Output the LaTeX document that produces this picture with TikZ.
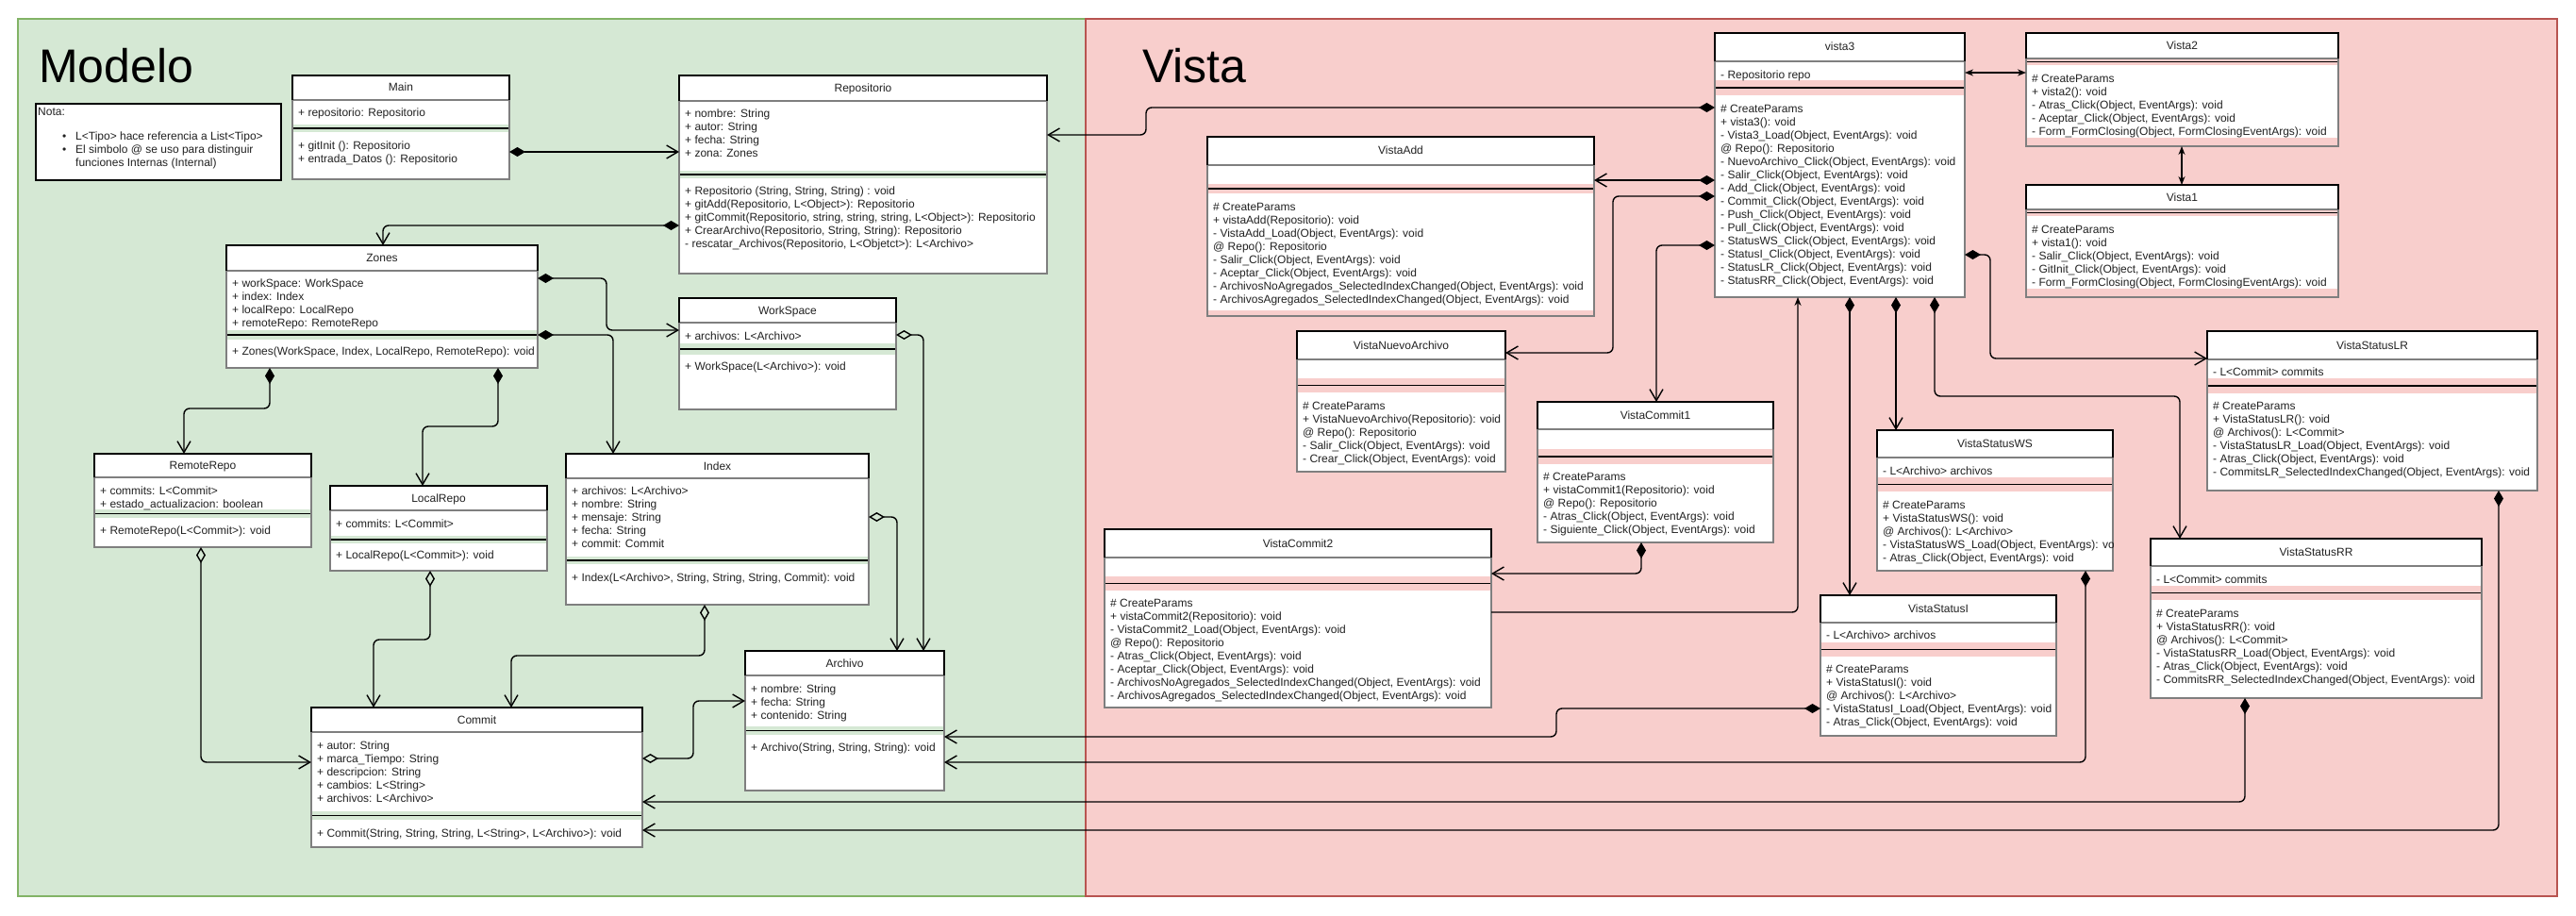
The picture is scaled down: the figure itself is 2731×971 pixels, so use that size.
\documentclass[tikz,border=0pt]{standalone}
\usepackage{fontspec}
\setmainfont{Liberation Sans}
\usetikzlibrary{arrows.meta}

\definecolor{modelfill}{HTML}{D5E8D4}
\definecolor{modeldraw}{HTML}{82B366}
\definecolor{vistafill}{HTML}{F8CECC}
\definecolor{vistadraw}{HTML}{B85450}
\definecolor{bodygray}{HTML}{7F7F7F}
\definecolor{ink}{HTML}{222222}

\tikzset{
  panel/.style={inner sep=0pt, outer sep=0pt, line width=1.2pt, anchor=north west},
  classnode/.style={inner sep=0pt, outer sep=0pt, draw=none},
  notabox/.style={draw=black, fill=white, line width=1.8pt, inner sep=0pt, outer sep=0pt},
  headline/.style={line width=1.8pt, draw=black},
  bodyline/.style={line width=1.3pt, draw=bodygray},
  sepline/.style={line width=1.8pt, draw=black},
  classtitle/.style={anchor=base, inner sep=0pt, font=\fontsize{12}{14}\selectfont, text=ink},
  classtext/.style={anchor=north west, inner sep=0pt, align=left, font=\fontsize{12}{14}\selectfont, text=ink},
  heading/.style={anchor=base west, inner sep=0pt, font=\fontsize{50}{60}\selectfont, text=black},
  link/.style={line width=1.4pt, draw=black, rounded corners=6pt},
  comp/.style={link, arrows={Diamond[length=17pt,width=10pt]-Straight Barb[length=12pt,width=14pt]}},
  aggr/.style={link, arrows={Diamond[open,length=17pt,width=10pt]-Straight Barb[length=12pt,width=14pt]}},
  nav/.style={link, arrows={-Stealth[length=9pt,width=7pt]}},
  both/.style={link, arrows={Stealth[length=9pt,width=7pt]-Stealth[length=9pt,width=7pt]}},
}

% geometry helpers: left,top,right,bottom  and  header,band top,band bottom,methods bottom
\def\clsgeom#1,#2,#3,#4\relax{\def\clsL{#1}\def\clsT{#2}\def\clsR{#3}\def\clsB{#4}}
\def\clssect#1,#2,#3,#4\relax{\def\clsH{#1}\def\clsBt{#2}\def\clsBb{#3}\def\clsM{#4}}

% UML class box: name, title, {l,t,r,b}, {header,band top,band bottom,methods bottom}
\newcommand\umlclass[4]{%
  \clsgeom#3\relax\clssect#4\relax
  \def\clsN{#1}%
  \fill[white] (\clsL,\clsT) rectangle (\clsR,\clsBt);
  \fill[white] (\clsL,\clsBb) rectangle (\clsR,\clsM);
  \pgfmathsetmacro\clsS{(\clsBt+\clsBb)/2}%
  \draw[sepline] (\clsL,\clsS) -- (\clsR,\clsS);
  \draw[bodyline] (\clsL,\clsH) rectangle (\clsR,\clsB);
  \draw[headline] (\clsL,\clsH) -- (\clsL,\clsT) -- (\clsR,\clsT) -- (\clsR,\clsH);
  \node[classnode, minimum width={(\clsR-\clsL)*1pt}, minimum height={(\clsB-\clsT)*1pt}, anchor=north west] (#1) at (\clsL,\clsT) {};
  \pgfmathsetmacro\clsCx{(\clsL+\clsR)/2}%
  \pgfmathsetmacro\clsCy{(\clsT+\clsH)/2+4}%
  \node[classtitle] (#1-title) at (\clsCx,\clsCy) {#2};
}
% member lists: centre of the first line, lines
\newcommand\umlattr[2]{%
  \pgfmathsetmacro\clsTy{#1-6}%
  \node[classtext] (\clsN-attr) at (\clsL+6,\clsTy) {\rule{0pt}{10pt}#2};
}
\newcommand\umlmeth[2]{%
  \pgfmathsetmacro\clsTy{#1-6}%
  \node[classtext] (\clsN-meth) at (\clsL+6,\clsTy) {\rule{0pt}{10pt}#2};
}

\begin{document}
\begin{tikzpicture}[x=1pt,y=-1pt]
\useasboundingbox (0,0) rectangle (2731,971);
\fill[white] (0,0) rectangle (2731,971);

% packages
\node[panel, fill=modelfill, draw=modeldraw, minimum width=1132pt, minimum height=930pt] (modelpanel) at (19,20) {};
\node[panel, fill=vistafill, draw=vistadraw, minimum width=1560pt, minimum height=930pt] (vistapanel) at (1151,20) {};
\node[heading] (modelo) at (41,88) {Modelo};
\node[heading] (vista) at (1211,88) {Vista};

% note
\node[notabox, minimum width=260pt, minimum height=81pt, anchor=north west] (nota) at (38,110) {};
\node[classtext] (nota-head) at (40,112) {\rule{0pt}{10pt}Nota:};
\node[classtext] (nota-dots) at (66,138) {\rule{0pt}{10pt}\textbullet\\\textbullet};
\node[classtext] (nota-body) at (80,138) {\rule{0pt}{10pt}L<Tipo> hace referencia a List<Tipo>\\El simbolo @ se uso para distinguir\\funciones Internas (Internal)};

% ---------------- Modelo ----------------
\umlclass{main}{Main}{310,80,540,190}{106,132,140,190}
\umlattr{119}{+ repositorio: Repositorio}
\umlmeth{154}{+ gitInit (): Repositorio\\+ entrada\_Datos (): Repositorio}

\umlclass{repo}{Repositorio}{720,80,1110,290}{107,181,189,290}
\umlattr{120}{+ nombre: String\\+ autor: String\\+ fecha: String\\+ zona: Zones}
\umlmeth{202}{+ Repositorio (String, String, String) : void\\+ gitAdd(Repositorio, L<Object>): Repositorio\\+ gitCommit(Repositorio, string, string, string, L<Object>): Repositorio\\+ CrearArchivo(Repositorio, String, String): Repositorio\\- rescatar\_Archivos(Repositorio, L<Objetct>): L<Archivo>}

\umlclass{zones}{Zones}{240,260,570,390}{287,350,360,390}
\umlattr{300}{+ workSpace: WorkSpace\\+ index: Index\\+ localRepo: LocalRepo\\+ remoteRepo: RemoteRepo}
\umlmeth{372}{+ Zones(WorkSpace, Index, LocalRepo, RemoteRepo): void}

\umlclass{ws}{WorkSpace}{720,316,950,434}{342,364,376,434}
\umlattr{356}{+ archivos: L<Archivo>}
\umlmeth{388}{+ WorkSpace(L<Archivo>): void}

\umlclass{rrepo}{RemoteRepo}{100,481,330,580}{506,540,549,580}
\umlattr{520}{+ commits: L<Commit>\\+ estado\_actualizacion: boolean}
\umlmeth{562}{+ RemoteRepo(L<Commit>): void}

\umlclass{lrepo}{LocalRepo}{350,515,580,605}{541,568,576,605}
\umlattr{555}{+ commits: L<Commit>}
\umlmeth{588}{+ LocalRepo(L<Commit>): void}

\umlclass{index}{Index}{600,481,921,641}{507,590,598,641}
\umlattr{520}{+ archivos: L<Archivo>\\+ nombre: String\\+ mensaje: String\\+ fecha: String\\+ commit: Commit}
\umlmeth{612}{+ Index(L<Archivo>, String, String, String, Commit): void}

\umlclass{archivo}{Archivo}{790,690,1001,838}{716,770,779,838}
\umlattr{730}{+ nombre: String\\+ fecha: String\\+ contenido: String}
\umlmeth{792}{+ Archivo(String, String, String): void}

\umlclass{commit}{Commit}{330,750,681,898}{776,860,869,898}
\umlattr{790}{+ autor: String\\+ marca\_Tiempo: String\\+ descripcion: String\\+ cambios: L<String>\\+ archivos: L<Archivo>}
\umlmeth{883}{+ Commit(String, String, String, L<String>, L<Archivo>): void}

% ---------------- Vista ----------------
\umlclass{vista3}{vista3}{1818,35,2083,315}{65,85,101,315}
\umlattr{79}{- Repositorio repo}
\umlmeth{115}{\# CreateParams\\+ vista3(): void\\- Vista3\_Load(Object, EventArgs): void\\@ Repo(): Repositorio\\- NuevoArchivo\_Click(Object, EventArgs): void\\- Salir\_Click(Object, EventArgs): void\\- Add\_Click(Object, EventArgs): void\\- Commit\_Click(Object, EventArgs): void\\- Push\_Click(Object, EventArgs): void\\- Pull\_Click(Object, EventArgs): void\\- StatusWS\_Click(Object, EventArgs): void\\- StatusI\_Click(Object, EventArgs): void\\- StatusLR\_Click(Object, EventArgs): void\\- StatusRR\_Click(Object, EventArgs): void}

\umlclass{vista2}{Vista2}{2148,35,2479,155}{62,62,69,146}
\umlmeth{83}{\# CreateParams\\+ vista2(): void\\- Atras\_Click(Object, EventArgs): void\\- Aceptar\_Click(Object, EventArgs): void\\- Form\_FormClosing(Object, FormClosingEventArgs): void}

\umlclass{vista1}{Vista1}{2148,196,2479,315}{222,222,229,306}
\umlmeth{243}{\# CreateParams\\+ vista1(): void\\- Salir\_Click(Object, EventArgs): void\\- GitInit\_Click(Object, EventArgs): void\\- Form\_FormClosing(Object, FormClosingEventArgs): void}

\umlclass{vadd}{VistaAdd}{1280,145,1690,335}{175,195,205,329}
\umlmeth{219}{\# CreateParams\\+ vistaAdd(Repositorio): void\\- VistaAdd\_Load(Object, EventArgs): void\\@ Repo(): Repositorio\\- Salir\_Click(Object, EventArgs): void\\- Aceptar\_Click(Object, EventArgs): void\\- ArchivosNoAgregados\_SelectedIndexChanged(Object, EventArgs): void\\- ArchivosAgregados\_SelectedIndexChanged(Object, EventArgs): void}

\umlclass{vna}{VistaNuevoArchivo}{1375,351,1596,500}{381,401,416,500}
\umlmeth{430}{\# CreateParams\\+ VistaNuevoArchivo(Repositorio): void\\@ Repo(): Repositorio\\- Salir\_Click(Object, EventArgs): void\\- Crear\_Click(Object, EventArgs): void}

\umlclass{vc1}{VistaCommit1}{1630,426,1880,575}{455,476,492,575}
\umlmeth{505}{\# CreateParams\\+ vistaCommit1(Repositorio): void\\@ Repo(): Repositorio\\- Atras\_Click(Object, EventArgs): void\\- Siguiente\_Click(Object, EventArgs): void}

\umlclass{vc2}{VistaCommit2}{1171,561,1581,750}{591,611,626,750}
\umlmeth{639}{\# CreateParams\\+ vistaCommit2(Repositorio): void\\- VistaCommit2\_Load(Object, EventArgs): void\\@ Repo(): Repositorio\\- Atras\_Click(Object, EventArgs): void\\- Aceptar\_Click(Object, EventArgs): void\\- ArchivosNoAgregados\_SelectedIndexChanged(Object, EventArgs): void\\- ArchivosAgregados\_SelectedIndexChanged(Object, EventArgs): void}

\umlclass{vslr}{VistaStatusLR}{2340,351,2690,520}{381,401,417,520}
\umlattr{394}{- L<Commit> commits}
\umlmeth{430}{\# CreateParams\\+ VistaStatusLR(): void\\@ Archivos(): L<Commit>\\- VistaStatusLR\_Load(Object, EventArgs): void\\- Atras\_Click(Object, EventArgs): void\\- CommitsLR\_SelectedIndexChanged(Object, EventArgs): void}

\umlclass{vsws}{VistaStatusWS}{1990,456,2240,605}{485,506,521,605}
\umlattr{499}{- L<Archivo> archivos}
\begin{scope}
  \clip (vsws.north west) rectangle (vsws.south east);
  \umlmeth{535}{\# CreateParams\\+ VistaStatusWS(): void\\@ Archivos(): L<Archivo>\\- VistaStatusWS\_Load(Object, EventArgs): void\\- Atras\_Click(Object, EventArgs): void}
\end{scope}

\umlclass{vsi}{VistaStatusI}{1930,631,2180,780}{660,681,696,780}
\umlattr{673}{- L<Archivo> archivos}
\umlmeth{709}{\# CreateParams\\+ VistaStatusI(): void\\@ Archivos(): L<Archivo>\\- VistaStatusI\_Load(Object, EventArgs): void\\- Atras\_Click(Object, EventArgs): void}

\umlclass{vsrr}{VistaStatusRR}{2280,571,2631,740}{600,621,636,740}
\umlattr{614}{- L<Commit> commits}
\umlmeth{650}{\# CreateParams\\+ VistaStatusRR(): void\\@ Archivos(): L<Commit>\\- VistaStatusRR\_Load(Object, EventArgs): void\\- Atras\_Click(Object, EventArgs): void\\- CommitsRR\_SelectedIndexChanged(Object, EventArgs): void}

% ---------------- relations: Modelo ----------------
\draw[comp] (main.east |- 0,161) -- (repo.west |- 0,161);
\draw[comp] (repo.west |- 0,239) -| (zones.north -| 406,0);
\draw[comp] (zones.east |- 0,295) -- (643,295) -- (643,350) -- (ws.west |- 0,350);
\draw[comp] (zones.east |- 0,355) -| (index.north -| 650,0);
\draw[comp] (zones.south -| 286,0) |- (195,433) -- (rrepo.north -| 195,0);
\draw[comp] (zones.south -| 528,0) |- (448,452) -- (lrepo.north -| 448,0);
\draw[aggr] (rrepo.south -| 213,0) |- (commit.west |- 0,808);
\draw[aggr] (lrepo.south -| 456,0) |- (396,678) -- (commit.north -| 396,0);
\draw[aggr] (index.south -| 747,0) |- (542,695) -- (commit.north -| 542,0);
\draw[aggr] (index.east |- 0,548) -| (archivo.north -| 951,0);
\draw[aggr] (ws.east |- 0,355) -| (archivo.north -| 979,0);
\draw[aggr] (commit.east |- 0,804) -- (735,804) |- (archivo.west |- 0,743);

% ---------------- relations: Vista ----------------
\draw[comp] (vista3.west |- 0,114) -- (1215,114) -- (1215,143) -- (repo.east |- 0,143);
\draw[comp] (vista3.west |- 0,191) -- (vadd.east |- 0,191);
\draw[comp] (vista3.west |- 0,208) -- (1710,208) |- (vna.east |- 0,374);
\draw[comp] (vista3.west |- 0,260) -| (vc1.north -| 1756,0);
\draw[comp] (vc1.south -| 1740,0) |- (vc2.east |- 0,608);
\draw[nav] (vc2.east |- 0,649) -| (vista3.south -| 1906,0);
\draw[comp] (vista3.south -| 1961,0) -- (vsi.north -| 1961,0);
\draw[comp] (vista3.south -| 2010,0) -- (vsws.north -| 2010,0);
\draw[comp] (vista3.south -| 2051,0) |- (2311,420) -- (vsrr.north -| 2311,0);
\draw[comp] (vista3.east |- 0,270) -- (2110,270) |- (vslr.west |- 0,380);
\draw[both] (vista3.east |- 0,77) -- (vista2.west |- 0,77);
\draw[both] (vista2.south -| 2313,0) -- (vista1.north -| 2313,0);

% views using model classes
\draw[comp] (vsi.west |- 0,751) -- (1650,751) |- (archivo.east |- 0,781);
\draw[comp] (vsws.south -| 2211,0) |- (archivo.east |- 0,808);
\draw[comp] (vsrr.south -| 2380,0) |- (commit.east |- 0,850);
\draw[comp] (vslr.south -| 2649,0) |- (commit.east |- 0,880);

\end{tikzpicture}
\end{document}
